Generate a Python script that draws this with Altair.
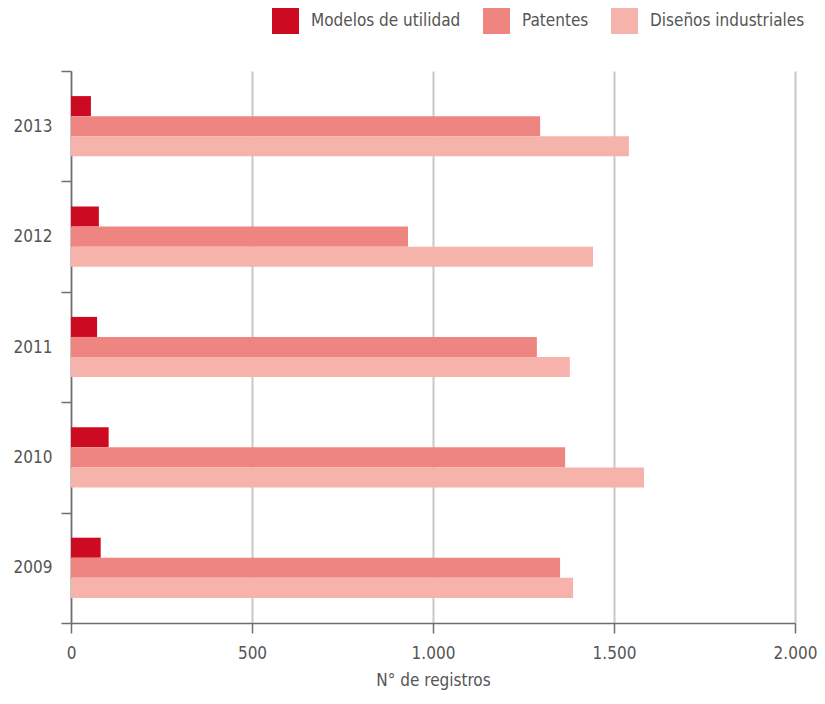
import altair as alt
import pandas as pd

years = ["2013", "2012", "2011", "2010", "2009"]
series = ["Modelos de utilidad", "Patentes", "Diseños industriales"]
modelos = [55, 77, 72, 104, 82]
patentes = [1296, 931, 1287, 1365, 1351]
disenos = [1541, 1442, 1378, 1583, 1387]
colors = ["#cc0a22", "#ef8580", "#f5b3ab"]

rows = []
for i, y in enumerate(years):
    for s, vals in zip(series, [modelos, patentes, disenos]):
        rows.append({"Año": y, "Serie": s, "Valor": vals[i]})
df = pd.DataFrame(rows)

FONT = "DejaVu Sans Condensed, Roboto, sans-serif"

chart = alt.Chart(df).mark_bar().encode(
    y=alt.Y("Año:N", sort=years,
            scale=alt.Scale(paddingInner=0, paddingOuter=0),
            axis=alt.Axis(title=None, tickBand="extent", labelFontSize=17,
                          labelColor="#555555", labelPadding=9, tickSize=10,
                          domainColor="#6e6e6e", tickColor="#6e6e6e",
                          labelFont=FONT, domainWidth=1.5, tickWidth=1.5)),
    yOffset=alt.YOffset("Serie:N",
                        scale=alt.Scale(domain=["_a"] + series + ["_b"],
                                        paddingInner=0, paddingOuter=0.25)),
    x=alt.X("Valor:Q", scale=alt.Scale(domain=[0, 2000], nice=False),
            axis=alt.Axis(title="N° de registros", values=[0, 500, 1000, 1500, 2000],
                          labelExpr="replace(format(datum.value, ','), ',', '.')",
                          labelFontSize=17, labelColor="#555555", labelFont=FONT,
                          labelFlush=False,
                          titleFont=FONT, titleFontSize=17, titleColor="#555555",
                          titleFontWeight="normal", titlePadding=11,
                          tickSize=10, labelPadding=12, grid=True,
                          gridColor="#c8c8c8", gridWidth=2,
                          domainColor="#6e6e6e", tickColor="#6e6e6e",
                          domainWidth=1.5, tickWidth=1.5)),
    color=alt.Color("Serie:N", sort=series,
                    scale=alt.Scale(domain=series, range=colors),
                    legend=alt.Legend(title=None, orient="none", direction="horizontal",
                                      legendX=201, legendY=-64,
                                      symbolType="square", symbolSize=729,
                                      symbolStrokeWidth=0, symbolOpacity=1,
                                      labelFont=FONT, labelFontSize=17,
                                      labelColor="#555555", labelOffset=12,
                                      columnPadding=22)),
).properties(
    width=724, height=552,
    autosize=alt.AutoSizeParams(type="none"),
    padding={"left": 63, "top": 63, "right": 22, "bottom": 73},
).configure_view(stroke=None)

chart.save("out.html", embed_options={"renderer": "svg", "actions": False})
